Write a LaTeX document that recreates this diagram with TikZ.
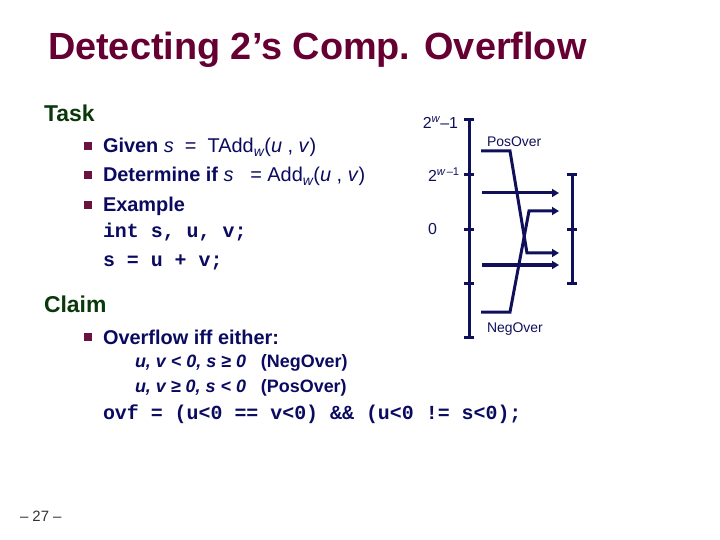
\documentclass[tikz,border=0pt]{standalone}
\usepackage{fontspec}
\setmainfont{Liberation Sans}
\newfontfamily\codefont{Liberation Mono}
\usepackage{tikz}
\usetikzlibrary{arrows.meta}
\definecolor{titlered}{HTML}{660033}
\definecolor{headgreen}{HTML}{0A380A}
\definecolor{textblue}{HTML}{0A0A60}
\definecolor{linenavy}{HTML}{10105A}

\begin{document}
\begin{tikzpicture}[x=1bp, y=-1bp,
    every node/.style={inner sep=0pt, outer sep=0pt, anchor=base west},
    head/.style={font=\fontsize{23}{26}\selectfont\bfseries, text=headgreen},
    item/.style={font=\fontsize{20}{24}\selectfont\bfseries, text=textblue},
    code/.style={font=\fontsize{20}{24}\selectfont\codefont\bfseries, text=textblue},
    bul/.style={rectangle, fill=titlered!85!gray, minimum size=8.5bp, anchor=center},
    small/.style={font=\fontsize{14}{16}\selectfont, text=linenavy},
    axis/.style={draw=linenavy, line width=3bp},
    arr/.style={draw=linenavy, line width=3bp, -{Triangle[length=7bp,width=8bp]}}]
    \useasboundingbox (0,0) rectangle (720,540);
    % title and text
    \node[font=\fontsize{38}{40}\selectfont\bfseries, text=titlered] at(48,60)(title){Detecting 2’s Comp. Overflow};
    \node[head] at(44,122)(task){Task};
    \node[bul] at(88,146)(b1){};
    \node[item] at(103,153)(given){Given \mdseries\itshape s\upshape\ \ =\ \ TAdd\textsubscript{\itshape w}(\textit{u} , \textit{v})};
    \node[bul] at(88,175)(b2){};
    \node[item] at(103,182)(determ){Determine if \mdseries\itshape s\upshape\ \ \ = Add\textsubscript{\itshape w}(\textit{u} , \textit{v})};
    \node[bul] at(88,205)(b3){};
    \node[item] at(103,212)(example){Example};
    \node[code] at(103,238)(decl){int s, u, v;};
    \node[code] at(103,267)(sum){s = u + v;};
    \node[head] at(44,312)(claim){Claim};
    \node[bul] at(88,337)(b4){};
    \node[item] at(103,344)(iff){Overflow iff either:};
    \node[item, font=\fontsize{18}{22}\selectfont\bfseries\itshape] at(135,367)(negcase){u, v < 0, s ≥ 0\ \ \ \upshape(NegOver)};
    \node[item, font=\fontsize{18}{22}\selectfont\bfseries\itshape] at(135,392)(poscase){u, v ≥ 0, s < 0\ \ \ \upshape(PosOver)};
    \node[code] at(103,419)(ovf){ovf = (u<0 == v<0) \&\& (u<0 != s<0);};
    \node[font=\fontsize{15}{17}\selectfont, text=black!80] at(20,521)(page){– 27 –};
    % number line labels
    \node[small, font=\fontsize{16}{18}\selectfont, anchor=base east] at(458,129)(tmax){2\textsuperscript{\itshape w}–1};
    \node[small, font=\fontsize{16}{18}\selectfont] at(428,182)(half){2\textsuperscript{\itshape w\upshape\,–1}};
    \node[small, font=\fontsize{16}{18}\selectfont] at(428,235)(zero){0};
    \node[small] at(487,147)(posover){PosOver};
    \node[small] at(487,332)(negover){NegOver};
    % left axis
    \coordinate (ltop) at(469,120);
    \coordinate (lbot) at(469,337);
    \draw[axis] (ltop) -- (lbot);
    \draw[axis] (464,120) -- (474,120);
    \draw[axis] (464,175) -- (474,175);
    \draw[axis] (464,230) -- (474,230);
    \draw[axis] (464,283) -- (474,283);
    \draw[axis] (464,337) -- (474,337);
    % right axis
    \coordinate (rtop) at(572,175);
    \coordinate (rbot) at(572,283);
    \draw[axis] (rtop) -- (rbot);
    \draw[axis] (567,175) -- (577,175);
    \draw[axis] (567,230) -- (577,230);
    \draw[axis] (567,283) -- (577,283);
    % mappings
    \coordinate (p1) at(481,151);
    \coordinate (p2) at(510,151);
    \coordinate (p3) at(527,253);
    \coordinate (p4) at(559,253);
    \draw[arr] (p1) -- (p2) -- (p3) -- (p4);
    \coordinate (n1) at(481,312);
    \coordinate (n2) at(510,312);
    \coordinate (n3) at(529,211);
    \coordinate (n4) at(559,211);
    \draw[arr] (n1) -- (n2) -- (n3) -- (n4);
    \coordinate (a1) at(482,193);
    \coordinate (a2) at(559,193);
    \draw[arr] (a1) -- (a2);
    \coordinate (c1) at(482,265);
    \coordinate (c2) at(559,265);
    \draw[arr] (c1) -- (c2);
\end{tikzpicture}
\end{document}
